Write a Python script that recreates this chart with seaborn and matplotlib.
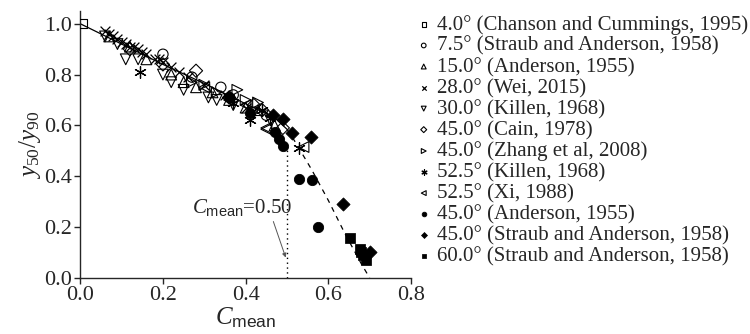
import pandas as pd
import matplotlib
matplotlib.use("Agg")
import matplotlib.pyplot as plt
import seaborn as sns

# series
labels = [
    "4.0° (Chanson and Cummings, 1995)",
    "7.5° (Straub and Anderson, 1958)",
    "15.0° (Anderson, 1955)",
    "28.0° (Wei, 2015)",
    "30.0° (Killen, 1968)",
    "45.0° (Cain, 1978)",
    "45.0° (Zhang et al, 2008)",
    "52.5° (Killen, 1968)",
    "52.5° (Xi, 1988)",
    "45.0° (Anderson, 1955)",
    "45.0° (Straub and Anderson, 1958)",
    "60.0° (Straub and Anderson, 1958)",
]

x_chanson = [0.005]
y_chanson = [1.00]

x_straub75 = [0.20, 0.27, 0.34, 0.37, 0.45]
y_straub75 = [0.88, 0.79, 0.75, 0.72, 0.64]

x_anderson15 = [0.07, 0.12, 0.16, 0.22, 0.25, 0.28, 0.32, 0.36, 0.40, 0.43, 0.47]
y_anderson15 = [0.95, 0.91, 0.86, 0.80, 0.77, 0.75, 0.73, 0.70, 0.67, 0.66, 0.60]

x_wei = [0.06, 0.07, 0.08, 0.09, 0.10, 0.11, 0.12, 0.13, 0.14, 0.15, 0.16,
         0.18, 0.19, 0.20, 0.22, 0.24, 0.26, 0.30, 0.35, 0.40]
y_wei = [0.97, 0.96, 0.95, 0.94, 0.93, 0.92, 0.91, 0.91, 0.90, 0.89, 0.88,
         0.86, 0.86, 0.85, 0.83, 0.81, 0.79, 0.76, 0.72, 0.67]

x_killen30 = [0.06, 0.09, 0.11, 0.14, 0.20, 0.22, 0.25, 0.31, 0.33, 0.37, 0.42, 0.46]
y_killen30 = [0.95, 0.92, 0.86, 0.86, 0.80, 0.77, 0.74, 0.71, 0.70, 0.68, 0.65, 0.62]

x_cain = [0.12, 0.20, 0.28, 0.36, 0.42, 0.44, 0.49]
y_cain = [0.90, 0.84, 0.815, 0.71, 0.68, 0.66, 0.59]

x_zhang = [0.27, 0.30, 0.33, 0.38, 0.40, 0.43]
y_zhang = [0.77, 0.76, 0.73, 0.74, 0.70, 0.69]

x_killen52 = [0.145, 0.37, 0.41, 0.44, 0.46, 0.53]
y_killen52 = [0.81, 0.69, 0.62, 0.66, 0.63, 0.51]

x_xi = [0.30, 0.36, 0.40, 0.45, 0.45, 0.54]
y_xi = [0.75, 0.70, 0.68, 0.59, 0.585, 0.515]

x_anderson45 = [0.36, 0.41, 0.47, 0.48, 0.49, 0.53, 0.56, 0.575]
y_anderson45 = [0.71, 0.65, 0.575, 0.545, 0.52, 0.39, 0.385, 0.20]

x_straub45 = [0.467, 0.49, 0.513, 0.558, 0.635, 0.70]
y_straub45 = [0.64, 0.625, 0.57, 0.555, 0.29, 0.10]

x_straub60 = [0.653, 0.677, 0.68, 0.683, 0.69]
y_straub60 = [0.157, 0.115, 0.10, 0.09, 0.07]

# fitted curve (solid part, then dashed extrapolation)
fit_x = [0.0, 0.1, 0.2, 0.3, 0.4, 0.47, 0.50]
fit_y = [1.0, 0.92, 0.84, 0.765, 0.685, 0.63, 0.585]
ext_x = [0.50, 0.52, 0.54, 0.56, 0.58, 0.60, 0.62, 0.64, 0.66, 0.68, 0.70]
ext_y = [0.585, 0.535, 0.48, 0.425, 0.365, 0.305, 0.24, 0.175, 0.115, 0.055, 0.0]

xs = [x_chanson, x_straub75, x_anderson15, x_wei, x_killen30, x_cain, x_zhang,
      x_killen52, x_xi, x_anderson45, x_straub45, x_straub60]
ys = [y_chanson, y_straub75, y_anderson15, y_wei, y_killen30, y_cain, y_zhang,
      y_killen52, y_xi, y_anderson45, y_straub45, y_straub60]
markers = ["s", "o", "^", "x", "v", "D", ">", (6, 2, 0), "<", "o", "D", "s"]
filled = [False] * 9 + [True] * 3
sizes = [45, 55, 60, 50, 60, 45, 60, 70, 60, 55, 45, 45]

df = pd.concat([pd.DataFrame({"x": a, "y": b, "series": l})
                for a, b, l in zip(xs, ys, labels)])

sns.set_style("ticks")
plt.rcParams["font.family"] = ["Liberation Serif", "DejaVu Serif"]
plt.rcParams["mathtext.fontset"] = "custom"
plt.rcParams["mathtext.rm"] = "Liberation Serif"
plt.rcParams["mathtext.it"] = "Liberation Serif:italic"
plt.rcParams["mathtext.sf"] = "Liberation Sans"

fig = plt.figure(figsize=(7.5, 3.34), dpi=100)
ax = fig.add_axes([0.107, 0.168, 0.441, 0.799])

sns.lineplot(x=fit_x, y=fit_y, ax=ax, color="black", lw=0.9, sort=False)
sns.lineplot(x=ext_x, y=ext_y, ax=ax, color="black", lw=0.9, sort=False,
             linestyle=(0, (4, 4)))
ax.plot([0.5, 0.5], [0.0, 0.505], color="black", lw=1.0, linestyle=(0, (1, 2.5)))

for lab, m, f, s in zip(labels, markers, filled, sizes):
    sub = df[df["series"] == lab]
    if f:
        sns.scatterplot(data=sub, x="x", y="y", ax=ax, marker=m, s=s,
                        color="black", edgecolor="black", label=lab, zorder=3)
    elif m == "x" or isinstance(m, tuple):
        sns.scatterplot(data=sub, x="x", y="y", ax=ax, marker=m, s=s,
                        color="black", linewidth=0.9, label=lab, zorder=3)
    else:
        sns.scatterplot(data=sub, x="x", y="y", ax=ax, marker=m, s=s,
                        facecolor="none", edgecolor="black", linewidth=0.8,
                        label=lab, zorder=3)

ax.set_xlim(0, 0.8)
ax.set_ylim(0, 1.05)
ax.set_xticks([0.0, 0.2, 0.4, 0.6, 0.8])
ax.set_yticks([0.0, 0.2, 0.4, 0.6, 0.8, 1.0])
ax.set_xticklabels([f"{v:.1f}" for v in ax.get_xticks()])
ax.set_yticklabels([f"{v:.1f}" for v in ax.get_yticks()])
ax.tick_params(labelsize=16, length=4, width=1, direction="out", pad=2)
for sp in ["top", "right"]:
    ax.spines[sp].set_visible(False)
for sp in ["left", "bottom"]:
    ax.spines[sp].set_linewidth(1.0)

ax.set_xlabel(r"$C_{\mathsf{mean}}$", fontsize=18, labelpad=0)
ax.set_ylabel(r"$y_{50}/y_{90}$", fontsize=18, labelpad=1)

ax.annotate(r"$C_{\mathsf{mean}}$=0.50", xy=(0.497, 0.08), xytext=(0.27, 0.276),
            fontsize=15, va="center", ha="left",
            arrowprops=dict(arrowstyle="-|>", color="#555555", lw=0.7,
                            shrinkA=0, shrinkB=0, mutation_scale=6,
                            relpos=(0.8, 0.0)))

handles, labs = ax.get_legend_handles_labels()
ax.legend_.remove()
fig.legend(handles, labs, loc="upper left", bbox_to_anchor=(418 / 750, 1 - 15 / 334),
           frameon=False, fontsize=15, markerscale=0.45, handlelength=0.55,
           handletextpad=0.35, labelspacing=0.07, borderaxespad=0, borderpad=0)

fig.savefig("out.png", dpi=100, facecolor="white")
